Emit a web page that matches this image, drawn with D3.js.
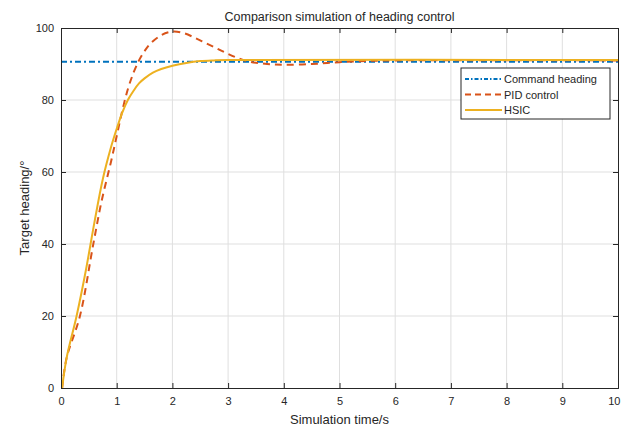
<!DOCTYPE html>
<html>
<head>
<meta charset="utf-8">
<script src="https://cdn.jsdelivr.net/npm/d3@7"></script>
<style>
  body { margin: 0; background: #fff; }
  text { font-family: "Liberation Sans", Arial, sans-serif; fill: #262626; }
</style>
</head>
<body>
<div id="chart-area"></div>
<script>
// values
var xTicks = [0, 1, 2, 3, 4, 5, 6, 7, 8, 9, 10]
var yTicks = [0, 20, 40, 60, 80, 100]

var commandTime = [0, 10]
var commandValue = [90.6, 90.6]

var pidTime = [0.02, 0.1, 0.34, 0.58, 0.73, 0.9, 1.0, 1.1, 1.2, 1.3, 1.4, 1.5, 1.6, 1.8, 2.0, 2.2, 2.4, 2.6, 2.8, 3.0, 3.2, 3.4, 3.7, 4.0, 4.5, 5.0, 5.5, 6.0, 10]
var pidValue = [0, 8.3, 20, 40, 52, 63, 70, 77, 83, 87.5, 91, 93.6, 95.6, 98, 99, 98.6, 97.3, 95.8, 94.3, 92.8, 91.5, 90.6, 90, 89.8, 90, 90.5, 90.85, 91, 91]

var hsicTime = [0.02, 0.1, 0.28, 0.45, 0.6, 0.75, 0.9, 1.0, 1.1, 1.2, 1.3, 1.4, 1.5, 1.65, 1.8, 2.0, 2.25, 2.5, 2.75, 3.0, 10]
var hsicValue = [0, 8.3, 20, 33, 46, 58, 67, 72, 76.5, 80, 82.5, 84.6, 86, 87.6, 88.6, 89.5, 90.3, 90.8, 91, 91.1, 91.1]

var seriesNames = ['Command heading', 'PID control', 'HSIC']

var margin = { top: 28, left: 61, bottom: 40, right: 4 }
var width = 622 - margin.left - margin.right
var height = 428 - margin.top - margin.bottom

var svg = d3.select('#chart-area').append('svg')
    .attr('width', 622)
    .attr('height', 428)

var g = svg.append('g').attr('transform', `translate(${margin.left}, ${margin.top})`)

var x = d3.scaleLinear().domain([0, 10]).range([0, width])
var y = d3.scaleLinear().domain([0, 100]).range([height, 0])

// grid
g.append('g').selectAll('line').data(xTicks.slice(1, -1)).enter().append('line')
    .attr('x1', d => x(d)).attr('x2', d => x(d))
    .attr('y1', 0).attr('y2', height)
    .attr('stroke', '#dfdfdf').attr('stroke-width', 1)
g.append('g').selectAll('line').data(yTicks.slice(1, -1)).enter().append('line')
    .attr('x1', 0).attr('x2', width)
    .attr('y1', d => y(d)).attr('y2', d => y(d))
    .attr('stroke', '#dfdfdf').attr('stroke-width', 1)

var toPoints = (ts, vs) => ts.map((t, i) => [t, vs[i]])

var line = d3.line()
    .x(d => x(d[0]))
    .y(d => y(d[1]))
    .curve(d3.curveCatmullRom.alpha(0.5))

svg.append('clipPath').attr('id', 'clip')
    .append('rect').attr('width', width).attr('height', height)

var lines = g.append('g').attr('clip-path', 'url(#clip)')

lines.append('path')
    .datum(toPoints(commandTime, commandValue))
    .attr('d', line)
    .attr('fill', 'none')
    .attr('stroke', '#0072BD')
    .attr('stroke-width', 2)
    .attr('stroke-dasharray', '6,3,2,3')

lines.append('path')
    .datum(toPoints(pidTime, pidValue))
    .attr('d', line)
    .attr('fill', 'none')
    .attr('stroke', '#D95319')
    .attr('stroke-width', 2)
    .attr('stroke-dasharray', '7,5')

lines.append('path')
    .datum(toPoints(hsicTime, hsicValue))
    .attr('d', line)
    .attr('fill', 'none')
    .attr('stroke', '#EDB120')
    .attr('stroke-width', 2)

// axes
var xAxisCall = d3.axisBottom(x).tickValues(xTicks).tickSize(-5).tickPadding(9)
var xAxisGroup = g.append('g').attr('transform', `translate(0, ${height})`).call(xAxisCall)
var yAxisCall = d3.axisLeft(y).tickValues(yTicks).tickSize(-5).tickPadding(7)
var yAxisGroup = g.append('g').call(yAxisCall)

var topAxis = g.append('g').call(d3.axisTop(x).tickValues(xTicks).tickSize(-5).tickFormat(''))
var rightAxis = g.append('g').attr('transform', `translate(${width}, 0)`)
    .call(d3.axisRight(y).tickValues(yTicks).tickSize(-5).tickFormat(''))

;[xAxisGroup, yAxisGroup, topAxis, rightAxis].forEach(a => {
  a.select('.domain').attr('stroke', '#262626')
  a.selectAll('.tick line').attr('stroke', '#262626')
  a.selectAll('text').attr('font-size', '11px').attr('fill', '#262626')
    .style('font-family', '"Liberation Sans", Arial, sans-serif')
})

// keep the last x label inside the window
xAxisGroup.selectAll('.tick text').filter(d => d === 10).attr('text-anchor', 'end').attr('dx', '2')

// labels
svg.append('text')
    .attr('x', margin.left + width / 2)
    .attr('y', 21)
    .attr('text-anchor', 'middle')
    .attr('font-size', '12.5px')
    .text('Comparison simulation of heading control')

svg.append('text')
    .attr('x', margin.left + width / 2)
    .attr('y', 424)
    .attr('text-anchor', 'middle')
    .attr('font-size', '13px')
    .text('Simulation time/s')

svg.append('text')
    .attr('transform', `translate(29, ${margin.top + height / 2}) rotate(-90)`)
    .attr('text-anchor', 'middle')
    .attr('font-size', '13px')
    .text('Target heading/°')

// legend
var legend = svg.append('g').attr('transform', 'translate(461, 68)')
legend.append('rect')
    .attr('width', 149).attr('height', 51)
    .attr('fill', '#fff').attr('stroke', '#262626').attr('stroke-width', 1)

var legendStyles = [
  { color: '#0072BD', dash: '4,2,1.5,2' },
  { color: '#D95319', dash: '6,4' },
  { color: '#EDB120', dash: null }
]

seriesNames.forEach((name, i) => {
  var row = legend.append('g').attr('transform', `translate(0, ${11 + i * 15.5})`)
  row.append('line')
      .attr('x1', 4).attr('x2', 41)
      .attr('y1', 0).attr('y2', 0)
      .attr('stroke', legendStyles[i].color)
      .attr('stroke-width', 2)
      .attr('stroke-dasharray', legendStyles[i].dash)
  row.append('text')
      .attr('x', 43).attr('y', 4)
      .attr('font-size', '11px')
      .text(name)
})
</script>
</body>
</html>
